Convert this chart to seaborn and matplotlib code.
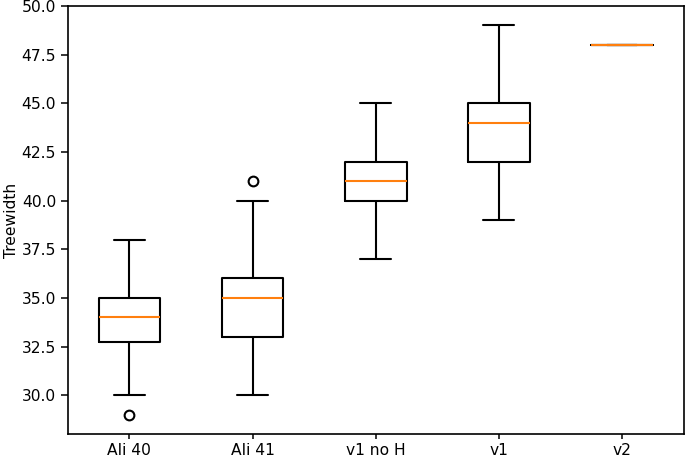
import pandas as pd
import matplotlib
matplotlib.use('Agg')
import matplotlib.pyplot as plt
import seaborn as sns

# treewidth samples per method (chosen to reproduce the box stats in the figure)
ali_40 = [29, 30, 32, 33, 33, 34, 34, 34, 35, 35, 35, 38]
ali_41 = [30, 32, 33, 34, 35, 35, 36, 40, 41]
v1_no_h = [37, 39, 40, 41, 41, 41, 42, 44, 45]
v1 = [39, 41, 42, 43, 44, 44, 45, 47, 49]
v2 = [48, 48, 48]

labels = ['Ali 40', 'Ali 41', 'v1 no H', 'v1', 'v2']
samples = [ali_40, ali_41, v1_no_h, v1, v2]

df = pd.DataFrame({
    'method': [lab for lab, s in zip(labels, samples) for _ in s],
    'Treewidth': [v for s in samples for v in s],
})

sns.set_style('white')
plt.rcParams['font.family'] = ['DejaVu Sans']
plt.rcParams['font.size'] = 11.2
plt.rcParams['text.color'] = 'black'
plt.rcParams['axes.labelcolor'] = 'black'
plt.rcParams['xtick.color'] = 'black'
plt.rcParams['ytick.color'] = 'black'

fig, ax = plt.subplots(figsize=(6.85, 4.58), dpi=100)
fig.subplots_adjust(left=0.099, right=0.998, bottom=0.052, top=0.987)

lw = 1.5
sns.boxplot(data=df, x='method', y='Treewidth', order=labels, ax=ax,
            fill=False, color='black', linecolor='black', linewidth=lw,
            width=0.5, whis=1.5,
            medianprops={'color': '#ff7f0e', 'linewidth': lw},
            boxprops={'color': 'black'},
            whiskerprops={'color': 'black'},
            capprops={'color': 'black'},
            flierprops={'marker': 'o', 'markerfacecolor': 'none',
                        'markeredgecolor': 'black', 'markersize': 7,
                        'markeredgewidth': lw})

ax.set_xlim(-0.5, 4.5)
ax.set_ylim(28, 50)
ax.set_yticks([30, 32.5, 35, 37.5, 40, 42.5, 45, 47.5, 50])
ax.set_yticklabels([f'{t:.1f}' for t in ax.get_yticks()])
ax.set_xlabel('')
ax.set_ylabel('Treewidth', fontsize=11.2, labelpad=2)
ax.tick_params(axis='x', length=3.5, pad=2.5)
ax.tick_params(axis='y', length=5, pad=3.5)
ax.tick_params(axis='both', width=1.1, color='black', labelcolor='black',
               direction='out', bottom=True, left=True, labelsize=11.2)
for sp in ax.spines.values():
    sp.set_color('black')
    sp.set_linewidth(1.2)

plt.savefig('out.png', dpi=100)
plt.close()
